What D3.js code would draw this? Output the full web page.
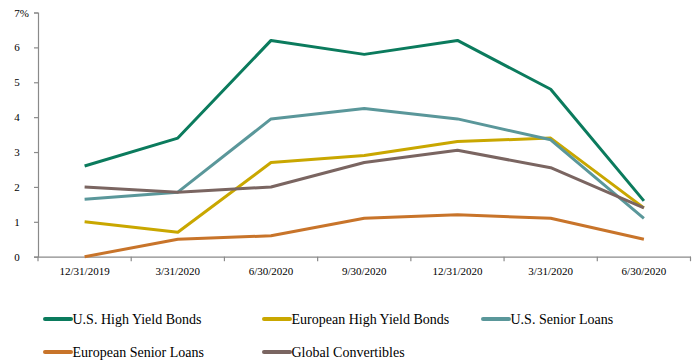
<!DOCTYPE html>
<html>
<head>
<meta charset="utf-8">
<script src="https://cdn.jsdelivr.net/npm/d3@7"></script>
<style>
  body { margin: 0; background: #fff; }
  svg { display: block; }
  text { font-family: "Liberation Serif", "Times New Roman", serif; fill: #000; }
</style>
</head>
<body>
<svg id="chart" width="699" height="362"></svg>
<script>
// quarter-end dates along the x axis
var dates = ["12/31/2019", "3/31/2020", "6/30/2020", "9/30/2020", "12/31/2020", "3/31/2020", "6/30/2020"];

var seriesNames = ["U.S. High Yield Bonds", "European High Yield Bonds", "U.S. Senior Loans",
                   "European Senior Loans", "Global Convertibles"];
var seriesColors = ["#0b7b5d", "#c9a700", "#5a979a", "#c8742a", "#7a6561"];

// values in %
var usHighYield   = [2.6, 3.4, 6.2, 5.8, 6.2, 4.8, 1.6];
var euroHighYield = [1.0, 0.7, 2.7, 2.9, 3.3, 3.4, 1.4];
var usSenior      = [1.65, 1.85, 3.95, 4.25, 3.95, 3.35, 1.1];
var euroSenior    = [0.0, 0.5, 0.6, 1.1, 1.2, 1.1, 0.5];
var globalConv    = [2.0, 1.85, 2.0, 2.7, 3.05, 2.55, 1.4];

var yTicks = [0, 1, 2, 3, 4, 5, 6, 7];

var seriesValues = [usHighYield, euroHighYield, usSenior, euroSenior, globalConv];

var svg = d3.select("#chart");
var serif = "'Liberation Serif', 'Times New Roman', serif";

// note: can't call it "top", that's window.top
var plotLeft = 38, plotRight = 690.5, plotTop = 12.5, plotBottom = 256.7;

// dates repeat (3/31/2020, 6/30/2020 twice) so band on index
var x = d3.scaleBand()
  .domain(d3.range(dates.length))
  .range([plotLeft, plotRight]);

var y = d3.scaleLinear()
  .domain([0, 7])
  .range([plotBottom, plotTop]);

// y axis
var yAxis = svg.append("g")
  .attr("transform", "translate(" + plotLeft + ",0)")
  .call(d3.axisLeft(y).tickValues(yTicks).tickSize(4)
    .tickFormat(function(d) { return d === 7 ? "7%" : d; }));
yAxis.attr("font-family", serif).attr("font-size", 11);
yAxis.selectAll("text")
  .attr("text-anchor", "start")
  .attr("x", -23.7);

// x axis, ticks at the band edges
var xAxis = svg.append("g")
  .attr("transform", "translate(0," + plotBottom + ")")
  .call(d3.axisBottom(x).tickSize(0).tickFormat(function(i) { return dates[i]; }));
xAxis.attr("font-family", serif).attr("font-size", 11);
xAxis.selectAll("text")
  .attr("y", 18.3)
  .attr("dy", null);
xAxis.selectAll(".edge")
  .data(d3.range(dates.length + 1))
  .enter().append("line")
  .attr("class", "edge")
  .attr("x1", function(i) { return plotLeft + i * x.step(); })
  .attr("x2", function(i) { return plotLeft + i * x.step(); })
  .attr("y1", 0)
  .attr("y2", 4.5);

svg.selectAll(".domain, .tick line, .edge")
  .attr("stroke", "#8a8a8a")
  .attr("stroke-width", 1.2);

var line = d3.line()
  .x(function(d, i) { return x(i) + x.bandwidth() / 2; })
  .y(function(d) { return y(d); });

svg.append("g").selectAll("path")
  .data(seriesValues)
  .enter().append("path")
  .attr("d", line)
  .attr("fill", "none")
  .attr("stroke", function(d, i) { return seriesColors[i]; })
  .attr("stroke-width", 3)
  .attr("stroke-linejoin", "round");

// legend, 3 per row
var legendX = [44, 263, 482];
var legendY = [319, 352];

var legend = svg.append("g").selectAll("g")
  .data(seriesNames)
  .enter().append("g")
  .attr("transform", function(d, i) {
    return "translate(" + legendX[i % 3] + "," + legendY[Math.floor(i / 3)] + ")";
  });

legend.append("line")
  .attr("x1", 1).attr("x2", 27)
  .attr("y1", 0).attr("y2", 0)
  .attr("stroke", function(d, i) { return seriesColors[i]; })
  .attr("stroke-width", 4)
  .attr("stroke-linecap", "round");

legend.append("text")
  .attr("x", 28.5)
  .attr("y", 5)
  .style("font-size", "14px")
  .text(function(d) { return d; });
</script>
</body>
</html>
